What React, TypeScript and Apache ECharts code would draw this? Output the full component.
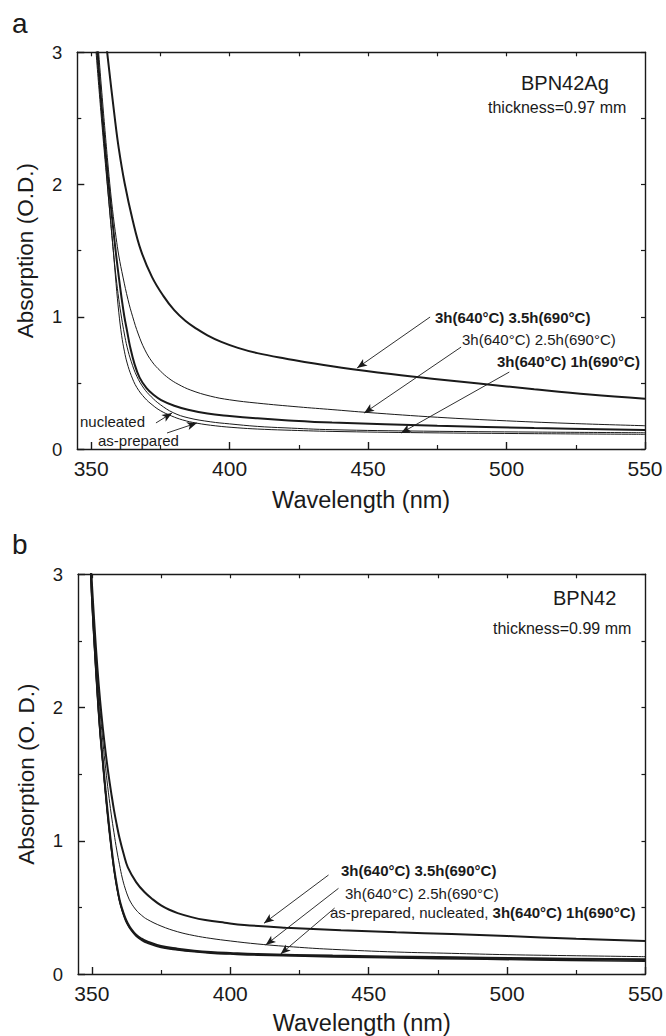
import React, { useEffect, useRef } from "react";
import * as echarts from "echarts";

// ---------- data (wavelength nm, absorption O.D.) ----------
// Panel a: BPN42Ag
const A_AS_PREPARED = [[351.6,3.05],[352,2.94],[353,2.68],[354,2.43],[355,2.19],[356,1.96],[357,1.73],[358,1.5],[359,1.25],[360,1.03],[361,0.86],[362,0.74],[363,0.65],[364.5,0.555],[366.5,0.465],[369.4,0.385],[372,0.335],[375,0.29],[379,0.25],[383,0.22],[388,0.196],[395,0.175],[403,0.16],[410,0.151],[420,0.143],[437,0.133],[470,0.123],[510,0.116],[550,0.111]];
const A_NUCLEATED = [[351.8,3.05],[352,3.0],[353,2.74],[354,2.48],[355,2.23],[356,1.97],[357,1.73],[358,1.5],[359,1.3],[360,1.13],[361,0.99],[362,0.87],[363,0.77],[364.5,0.66],[366.5,0.55],[369,0.46],[371.7,0.395],[375,0.335],[379.6,0.275],[385,0.236],[393,0.206],[400,0.19],[410,0.171],[420,0.16],[437,0.146],[470,0.135],[510,0.128],[550,0.123]];
const A_1H = [[352.2,3.05],[353,2.8],[354,2.54],[355,2.3],[356,2.07],[357,1.86],[358,1.66],[359,1.47],[360,1.3],[361,1.14],[362,1.0],[363,0.89],[364,0.78],[365.7,0.64],[367.5,0.54],[370,0.46],[372.5,0.41],[375.3,0.37],[380,0.327],[385,0.297],[392,0.268],[400,0.25],[410,0.232],[420,0.218],[437,0.2],[475,0.175],[510,0.158],[550,0.144]];
const A_2_5H = [[352.4,3.08],[353,2.92],[354,2.66],[355,2.41],[356,2.17],[357,1.95],[358,1.76],[359,1.6],[360,1.46],[361.5,1.3],[363.3,1.13],[365,1.0],[367,0.87],[369.4,0.75],[372,0.66],[375,0.59],[378,0.535],[381.4,0.49],[386,0.445],[393,0.4],[400,0.372],[410,0.347],[425,0.318],[437,0.298],[450,0.276],[475,0.24],[500,0.213],[525,0.192],[550,0.176]];
const A_3_5H = [[355.3,3.1],[356,2.96],[358.5,2.51],[360,2.27],[362.1,2.01],[365,1.73],[368,1.5],[372,1.3],[376,1.16],[380,1.05],[384,0.97],[388,0.91],[392,0.86],[397,0.81],[403,0.765],[410,0.725],[420,0.685],[437,0.625],[455,0.575],[474,0.53],[490,0.495],[510,0.452],[530,0.412],[550,0.38]];

// Panel b: BPN42
const B_AS_PREPARED = [[349.4,3.1],[350,2.8],[351,2.42],[352,2.08],[353,1.79],[354,1.56],[355,1.33],[356,1.12],[357,0.94],[358,0.78],[359,0.65],[360,0.545],[361,0.47],[362,0.41],[363,0.366],[364,0.333],[366,0.283],[368,0.253],[370,0.232],[375,0.199],[381,0.18],[387,0.166],[393,0.156],[400,0.149],[410,0.141],[437,0.128],[475,0.115],[510,0.105],[550,0.095]];
const B_NUCLEATED = [[349.45,3.1],[350,2.83],[351,2.45],[352,2.11],[353,1.81],[354,1.58],[355,1.35],[356,1.14],[357,0.955],[358,0.79],[359,0.66],[360,0.553],[361,0.478],[362,0.418],[363,0.373],[364,0.339],[366,0.289],[368,0.259],[370,0.238],[375,0.204],[381,0.184],[387,0.17],[393,0.16],[400,0.153],[410,0.145],[437,0.132],[475,0.12],[510,0.111],[550,0.102]];
const B_1H = [[349.5,3.1],[350,2.85],[351,2.47],[352,2.13],[353,1.83],[354,1.6],[355,1.37],[356,1.16],[357,0.97],[358,0.8],[359,0.67],[360,0.56],[361,0.485],[362,0.425],[363,0.38],[364,0.345],[366,0.295],[368,0.265],[370,0.245],[375,0.21],[381,0.19],[387,0.175],[393,0.165],[400,0.158],[410,0.15],[437,0.138],[475,0.127],[510,0.118],[550,0.11]];
const B_2_5H = [[349.6,3.08],[350,2.9],[351,2.55],[352,2.24],[353,1.97],[354,1.74],[355,1.54],[356,1.36],[357,1.2],[358,1.06],[359,0.93],[360,0.82],[361,0.72],[362,0.645],[363,0.585],[364,0.54],[366,0.48],[368,0.44],[370,0.41],[375,0.36],[381,0.317],[387,0.288],[393,0.267],[400,0.248],[410,0.225],[425,0.2],[437,0.185],[460,0.165],[480,0.155],[500,0.145],[525,0.137],[550,0.13]];
const B_3_5H = [[349.7,3.05],[350,2.94],[351,2.6],[352,2.3],[353,2.05],[354,1.84],[355,1.66],[356,1.5],[357,1.36],[358,1.23],[359,1.12],[360,1.02],[361.5,0.9],[363,0.8],[366,0.69],[369,0.615],[372,0.56],[375,0.515],[378,0.482],[381,0.457],[386,0.427],[391,0.405],[398,0.385],[405,0.368],[420,0.348],[440,0.328],[460,0.313],[480,0.3],[500,0.285],[525,0.265],[550,0.248]];

// arrows: [fromX, fromY, toX, toY] in data units
const A_ARROWS = [[472.4,0.998,446.05,0.613],[483.6,0.771,448.6,0.272],[501.0,0.582,461.9,0.121],[373.4,0.197,379.2,0.272],[377.4,0.121,388.2,0.197]];
const B_ARROWS = [[435.5,0.743,412.2,0.381],[439.1,0.643,412.8,0.218],[437.7,0.495,418.2,0.150]];

// ticks
const X_MIN = 345;
const X_MAX = 550;
const X_MAJOR = [350, 400, 450, 500, 550];
const X_MINOR = [375, 425, 475, 525];
const X_TOP = [350, 375, 400, 425, 450, 475, 500, 525];

const FONT = "'Liberation Sans', Arial, Helvetica, sans-serif";
const INK = "#1a1a1a";

export default function App() {
  const ref = useRef<HTMLDivElement>(null);
  useEffect(() => {
    if (!ref.current) return;
    const chart = echarts.init(ref.current, undefined, { renderer: "svg" });

    const grids = [
      { left: 77.3, top: 52.3, width: 567.7, height: 396.7 },
      { left: 78, top: 574.3, width: 570.7, height: 399.7 },
    ];
    const axisLine = { show: true, lineStyle: { color: INK, width: 1.4 } };
    const xAxes: any[] = [];
    const yAxes: any[] = [];
    [0, 1].forEach((g) => {
      xAxes.push({
        type: "value", gridIndex: g, position: "bottom", min: X_MIN, max: X_MAX,
        axisLine, splitLine: { show: false },
        axisTick: { show: true, inside: true, length: 7, customValues: X_MAJOR, lineStyle: { color: INK, width: 1.4 } },
        axisLabel: { show: true, customValues: X_MAJOR, fontSize: 21, color: INK, fontFamily: FONT, margin: 9 },
        name: "Wavelength (nm)", nameLocation: "middle", nameGap: g === 0 ? 38.5 : 37,
        nameTextStyle: { fontSize: 23.5, color: INK, fontFamily: FONT },
      });
      xAxes.push({
        type: "value", gridIndex: g, position: "bottom", min: X_MIN, max: X_MAX,
        axisLine: { show: false }, splitLine: { show: false }, axisLabel: { show: false },
        axisTick: { show: true, inside: true, length: 4, customValues: X_MINOR, lineStyle: { color: INK, width: 1.2 } },
      });
      xAxes.push({
        type: "value", gridIndex: g, position: "top", min: X_MIN, max: X_MAX,
        axisLine, splitLine: { show: false }, axisLabel: { show: false },
        axisTick: { show: true, inside: true, length: 4, customValues: X_TOP, lineStyle: { color: INK, width: 1.2 } },
      });
      yAxes.push({
        type: "value", gridIndex: g, position: "left", min: 0, max: 3, interval: 1,
        axisLine, splitLine: { show: false },
        axisTick: { show: true, inside: true, length: 7, lineStyle: { color: INK, width: 1.4 } },
        minorTick: { show: true, splitNumber: 2, length: 4, lineStyle: { color: INK, width: 1.2 } },
        minorSplitLine: { show: false },
        axisLabel: { fontSize: 18.5, color: INK, fontFamily: FONT, margin: 15 },
        name: g === 0 ? "Absorption (O.D.)" : "Absorption (O. D.)",
        nameLocation: "middle", nameGap: 40, nameRotate: 90,
        nameTextStyle: { fontSize: 22.5, color: INK, fontFamily: FONT },
      });
      yAxes.push({
        type: "value", gridIndex: g, position: "right", min: 0, max: 3, interval: 0.5,
        axisLine, splitLine: { show: false }, axisLabel: { show: false },
        axisTick: { show: true, inside: true, length: 4, lineStyle: { color: INK, width: 1.2 } },
      });
    });

    const mkLine = (data: number[][], g: number, width: number, arrows?: number[][]) => {
      const s: any = {
        type: "line", xAxisIndex: g * 3, yAxisIndex: g * 2, data,
        showSymbol: false, symbol: "none", smooth: 0.4, clip: true, silent: true,
        lineStyle: { color: INK, width },
      };
      if (arrows) {
        s.markLine = {
          silent: true, symbol: ["none", "arrow"], symbolSize: [6, 10],
          label: { show: false },
          lineStyle: { color: INK, width: 0.9, type: "solid" },
          emphasis: { disabled: true },
          data: arrows.map((a) => [{ coord: [a[0], a[1]] }, { coord: [a[2], a[3]] }]),
        };
      }
      return s;
    };

    const series = [
      mkLine(A_AS_PREPARED, 0, 1, A_ARROWS),
      mkLine(A_NUCLEATED, 0, 1),
      mkLine(A_1H, 0, 2),
      mkLine(A_2_5H, 0, 1),
      mkLine(A_3_5H, 0, 2),
      mkLine(B_AS_PREPARED, 1, 1.4, B_ARROWS),
      mkLine(B_NUCLEATED, 1, 1.4),
      mkLine(B_1H, 1, 2),
      mkLine(B_2_5H, 1, 1),
      mkLine(B_3_5H, 1, 2),
    ];

    const txt = (text: string, x: number, y: number, size: number, bold = false, extra: any = {}) => ({
      type: "text", x, y, silent: true,
      style: {
        text, fill: INK, fontSize: size, fontFamily: FONT, fontWeight: bold ? "bold" : "normal",
        align: "left", verticalAlign: "middle", ...extra,
      },
    });

    const graphic = [
      txt("a", 12, 23, 28),
      txt("b", 12, 544, 28),
      txt("BPN42Ag", 521, 83, 20),
      txt("thickness=0.97 mm", 488, 107, 16),
      txt("3h(640°C) 3.5h(690°C)", 435, 317, 15, true),
      txt("3h(640°C) 2.5h(690°C)", 462, 339, 15),
      txt("3h(640°C) 1h(690°C)", 497, 361, 15, true),
      txt("nucleated", 80, 421, 15),
      txt("as-prepared", 98, 440, 15),
      txt("BPN42", 553, 598, 20),
      txt("thickness=0.99 mm", 493, 628, 16),
      txt("3h(640°C) 3.5h(690°C)", 341, 870, 15, true),
      txt("3h(640°C) 2.5h(690°C)", 345, 893, 15),
      txt("{n|as-prepared, nucleated, }{b|3h(640°C) 1h(690°C)}", 330, 912, 15, false, {
        rich: {
          n: { fontSize: 15, fontFamily: FONT, fill: INK, fontWeight: "normal" },
          b: { fontSize: 15, fontFamily: FONT, fill: INK, fontWeight: "bold" },
        },
      }),
    ];

    chart.setOption({
      animation: false,
      backgroundColor: "#ffffff",
      grid: grids,
      xAxis: xAxes,
      yAxis: yAxes,
      series,
      graphic,
    });
    return () => chart.dispose();
  }, []);

  return (
    <div
      ref={ref}
      style={{ position: "absolute", left: 0, top: 0, width: 666, height: 1036, background: "#fff" }}
    />
  );
}
